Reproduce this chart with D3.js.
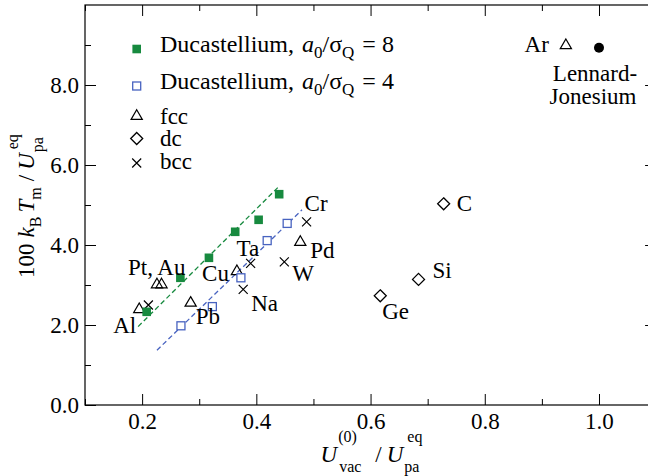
<!DOCTYPE html>
<html><head><meta charset="utf-8">
<script src="https://cdn.jsdelivr.net/npm/d3@7"></script>
<style>
html,body{margin:0;padding:0;background:#fff;overflow:hidden;}
svg{display:block;}
svg text{font-family:"Liberation Serif","Times New Roman",serif;white-space:pre;}
</style></head><body>
<svg id="chart" width="648" height="476" font-family="Liberation Serif"></svg>
<script>
// Ducastellium runs: filled squares a0/σQ = 8, open squares a0/σQ = 4
const duc8X = [0.208, 0.267, 0.317, 0.363, 0.404, 0.440];
const duc8Y = [2.33, 3.18, 3.68, 4.33, 4.63, 5.27];
const duc4X = [0.268, 0.323, 0.373, 0.419, 0.454];
const duc4Y = [1.98, 2.46, 3.18, 4.11, 4.54];

// linear trends drawn through each Ducastellium run
const trend8X = [0.193, 0.440];
const trend8Y = [1.96, 5.47];
const trend4X = [0.226, 0.480];
const trend4Y = [1.37, 4.88];

// real elements by lattice
const fccNames = ["Al", "Pt", "Au", "Pb", "Cu", "Pd", "Ar"];
const fccX = [0.195, 0.226, 0.234, 0.285, 0.366, 0.477, 0.942];
const fccY = [2.42, 3.04, 3.04, 2.58, 3.37, 4.10, 9.02];

const dcNames = ["Ge", "Si", "C"];
const dcX = [0.617, 0.684, 0.728];
const dcY = [2.73, 3.14, 5.03];

const bccNames = ["", "Na", "Ta", "W", "Cr"];
const bccX = [0.211, 0.377, 0.390, 0.449, 0.488];
const bccY = [2.50, 2.89, 3.54, 3.58, 4.58];

// Lennard-Jonesium reference point
const ljX = [1.0];
const ljY = [8.93];

// axis ticks
const xMajor = [0.2, 0.4, 0.6, 0.8, 1.0];
const xMinor = [0.1, 0.3, 0.5, 0.7, 0.9];
const yMajor = [0, 2, 4, 6, 8];
const yMinor = [1, 3, 5, 7, 9];

const GREEN = "#178a3f";
const BLUE = "#4863c0";
const FS = 23, SFS = 16;
const LFS = 24, LSFS = 17;
const FONT = "Liberation Serif";

const svg = d3.select("#chart");
const x = d3.scaleLinear().domain([0.1, 1.1]).range([85, 656.1]);
const y = d3.scaleLinear().domain([0, 10]).range([405, 5]);
const [x0, x1] = x.range(), [y0, y1] = y.range();

// axes with inward ticks
function ticksOnly(g) {
  g.attr("font-family", null).attr("font-size", null);
  g.select(".domain").remove();
  g.selectAll("line").attr("stroke", "#000").attr("stroke-width", 1);
}
function labelStyle(g) {
  g.selectAll("text").attr("font-size", FS).attr("font-family", FONT).attr("fill", "#000");
}
const fmt = d3.format(".1f");

svg.append("g").attr("transform", `translate(0,${y0})`)
  .call(d3.axisBottom(x).tickValues(xMajor).tickSize(-11).tickPadding(8).tickFormat(fmt))
  .call(ticksOnly).call(labelStyle);
svg.append("g").attr("transform", `translate(0,${y0})`)
  .call(d3.axisBottom(x).tickValues(xMinor).tickSize(-6).tickFormat(""))
  .call(ticksOnly);
svg.append("g").attr("transform", `translate(0,${y1})`)
  .call(d3.axisTop(x).tickValues(xMajor).tickSize(-11).tickFormat(""))
  .call(ticksOnly);
svg.append("g").attr("transform", `translate(0,${y1})`)
  .call(d3.axisTop(x).tickValues(xMinor).tickSize(-6).tickFormat(""))
  .call(ticksOnly);

svg.append("g").attr("transform", `translate(${x0},0)`)
  .call(d3.axisLeft(y).tickValues(yMajor).tickSize(-11).tickPadding(6).tickFormat(fmt))
  .call(ticksOnly).call(labelStyle);
svg.append("g").attr("transform", `translate(${x0},0)`)
  .call(d3.axisLeft(y).tickValues(yMinor).tickSize(-6).tickFormat(""))
  .call(ticksOnly);
svg.append("g").attr("transform", `translate(${x1},0)`)
  .call(d3.axisRight(y).tickValues(yMajor.filter(v => v > 0)).tickSize(-11).tickFormat(""))
  .call(ticksOnly);
svg.append("g").attr("transform", `translate(${x1},0)`)
  .call(d3.axisRight(y).tickValues(yMinor).tickSize(-6).tickFormat(""))
  .call(ticksOnly);

// plot frame
svg.append("rect").attr("x", x0).attr("y", y1).attr("width", x1 - x0).attr("height", y0 - y1)
  .attr("fill", "none").attr("stroke", "#000").attr("stroke-width", 1.2);

// rich text with italics, sub- and superscripts (keep: stack next piece at same x)
function rich(parent, parts, base) {
  const g = parent.append("g");
  let cx = 0, pend = 0;
  for (const p of parts) {
    if (p.gap !== undefined) { cx += p.gap; continue; }
    const t = g.append("text")
      .attr("x", cx + (p.dx || 0)).attr("y", p.dy || 0)
      .attr("font-family", FONT)
      .attr("font-size", p.size || base || FS)
      .attr("font-style", p.it ? "italic" : null)
      .attr("fill", "#000")
      .text(p.t);
    const w = t.node().getComputedTextLength() + (p.dx || 0);
    if (p.keep) pend = Math.max(pend, w);
    else { cx += Math.max(pend, w); pend = 0; }
  }
  return { g, width: cx };
}

// axis titles
const xt = rich(svg, [
  { t: "U", it: true }, { t: "(0)", size: SFS, dy: -20, dx: 1, keep: true }, { t: "vac", size: SFS, dy: 10, dx: 2 },
  { gap: 14 }, { t: "/" }, { gap: 5 },
  { t: "U", it: true }, { t: "eq", size: SFS, dy: -20, dx: 4, keep: true }, { t: "pa", size: SFS, dy: 10, dx: 1 }
]);
xt.g.attr("transform", `translate(${371.5 - xt.width / 2},462)`);

const yt = rich(svg, [
  { t: "100" }, { gap: 6 }, { t: "k", it: true }, { t: "B", size: SFS, dy: 7 }, { gap: 4 },
  { t: "T", it: true }, { t: "m", size: SFS, dy: 7 }, { gap: 6 }, { t: "/" }, { gap: 5 },
  { t: "U", it: true }, { t: "eq", size: SFS, dy: -16, dx: 4, keep: true }, { t: "pa", size: SFS, dy: 9, dx: 1 }
]);
yt.g.attr("transform", `translate(34,206) rotate(-90) translate(${-yt.width / 2},0)`);

// marker shapes
const tri = "M0,-5.2L5.6,4.4L-5.6,4.4Z";
const dia = "M0,-6L6,0L0,6L-6,0Z";
const cross = "M-4.5,-4.5L4.5,4.5M-4.5,4.5L4.5,-4.5";

function pts(X, Y) { return X.map((v, i) => ({ x: v, y: Y[i] })); }

// trend lines
const line = d3.line().x(d => x(d.x)).y(d => y(d.y));
svg.append("path").datum(pts(trend8X, trend8Y)).attr("d", line)
  .attr("stroke", GREEN).attr("stroke-width", 1.3).attr("stroke-dasharray", "5,3").attr("fill", "none");
svg.append("path").datum(pts(trend4X, trend4Y)).attr("d", line)
  .attr("stroke", BLUE).attr("stroke-width", 1.3).attr("stroke-dasharray", "5,3").attr("fill", "none");

function drawPath(data, d, stroke, fill, sw) {
  svg.append("g").selectAll("path").data(data).join("path")
    .attr("transform", p => `translate(${x(p.x)},${y(p.y)})`)
    .attr("d", d).attr("stroke", stroke).attr("fill", fill).attr("stroke-width", sw);
}
drawPath(pts(fccX, fccY), tri, "#000", "none", 1.2);
drawPath(pts(dcX, dcY), dia, "#000", "none", 1.3);
drawPath(pts(bccX, bccY), cross, "#000", "none", 1.2);

svg.append("g").selectAll("rect").data(pts(duc8X, duc8Y)).join("rect")
  .attr("x", p => x(p.x) - 4.3).attr("y", p => y(p.y) - 4.3).attr("width", 8.6).attr("height", 8.6)
  .attr("fill", GREEN);
svg.append("g").selectAll("rect").data(pts(duc4X, duc4Y)).join("rect")
  .attr("x", p => x(p.x) - 4).attr("y", p => y(p.y) - 4).attr("width", 8).attr("height", 8)
  .attr("fill", "#fff").attr("stroke", BLUE).attr("stroke-width", 1.3);
svg.append("g").selectAll("circle").data(pts(ljX, ljY)).join("circle")
  .attr("cx", p => x(p.x)).attr("cy", p => y(p.y)).attr("r", 5).attr("fill", "#000");

// point labels, offset in pixels from their marker
const labelSpec = [
  { text: "Al", X: fccX, Y: fccY, i: 0, dx: -3, dy: 25, a: "end" },
  { text: "Pt, Au", X: fccX, Y: fccY, i: 1, dx: -29, dy: -8, a: "start" },
  { text: "Pb", X: fccX, Y: fccY, i: 3, dx: 5, dy: 22, a: "start" },
  { text: "Cu", X: fccX, Y: fccY, i: 4, dx: -8, dy: 11, a: "end" },
  { text: "Pd", X: fccX, Y: fccY, i: 5, dx: 10, dy: 17, a: "start" },
  { text: "Ar", X: fccX, Y: fccY, i: 6, dx: -17, dy: 8, a: "end" },
  { text: "Na", X: bccX, Y: bccY, i: 1, dx: 8, dy: 22, a: "start" },
  { text: "Ta", X: bccX, Y: bccY, i: 2, dx: -14, dy: -7, a: "start" },
  { text: "W", X: bccX, Y: bccY, i: 3, dx: 8, dy: 19, a: "start" },
  { text: "Cr", X: bccX, Y: bccY, i: 4, dx: -2, dy: -11, a: "start" },
  { text: "Ge", X: dcX, Y: dcY, i: 0, dx: 2, dy: 23, a: "start" },
  { text: "Si", X: dcX, Y: dcY, i: 1, dx: 14, dy: -1, a: "start" },
  { text: "C", X: dcX, Y: dcY, i: 2, dx: 13, dy: 7, a: "start" },
  { text: "Lennard-", X: ljX, Y: ljY, i: 0, dx: -4, dy: 33, a: "middle" },
  { text: "Jonesium", X: ljX, Y: ljY, i: 0, dx: -6, dy: 56, a: "middle" }
];
svg.append("g").selectAll("text").data(labelSpec).join("text")
  .attr("x", s => x(s.X[s.i]) + s.dx).attr("y", s => y(s.Y[s.i]) + s.dy)
  .attr("text-anchor", s => s.a).attr("font-size", FS).attr("font-family", FONT).attr("fill", "#000")
  .text(s => s.text);

// legend
const lg = svg.append("g");
const lx = 136.7, tx = 160;
lg.append("rect").attr("x", lx - 4.3).attr("y", 49 - 4.3).attr("width", 8.6).attr("height", 8.6).attr("fill", GREEN);
lg.append("rect").attr("x", lx - 4).attr("y", 86 - 4).attr("width", 8).attr("height", 8)
  .attr("fill", "#fff").attr("stroke", BLUE).attr("stroke-width", 1.3);
lg.append("path").attr("transform", `translate(${lx},115)`).attr("d", tri).attr("stroke", "#000").attr("fill", "none").attr("stroke-width", 1.2);
lg.append("path").attr("transform", `translate(${lx},138.5)`).attr("d", dia).attr("stroke", "#000").attr("fill", "none").attr("stroke-width", 1.3);
lg.append("path").attr("transform", `translate(${lx},163)`).attr("d", cross).attr("stroke", "#000").attr("fill", "none").attr("stroke-width", 1.2);

function ducLabel(ratio) {
  return [{ t: "Ducastellium," }, { gap: 8 }, { t: "a", it: true }, { t: "0", size: LSFS, dy: 6 }, { t: "/σ" },
          { t: "Q", size: LSFS, dy: 6 }, { gap: 8 }, { t: "=" }, { gap: 6 }, { t: String(ratio) }];
}
rich(lg, ducLabel(8), LFS).g.attr("transform", `translate(${tx},52)`);
rich(lg, ducLabel(4), LFS).g.attr("transform", `translate(${tx},89)`);
[["fcc", 124], ["dc", 146], ["bcc", 169]].forEach(([t, by]) =>
  lg.append("text").attr("x", tx).attr("y", by).attr("font-size", FS).attr("font-family", FONT).attr("fill", "#000").text(t));
</script>
</body></html>
